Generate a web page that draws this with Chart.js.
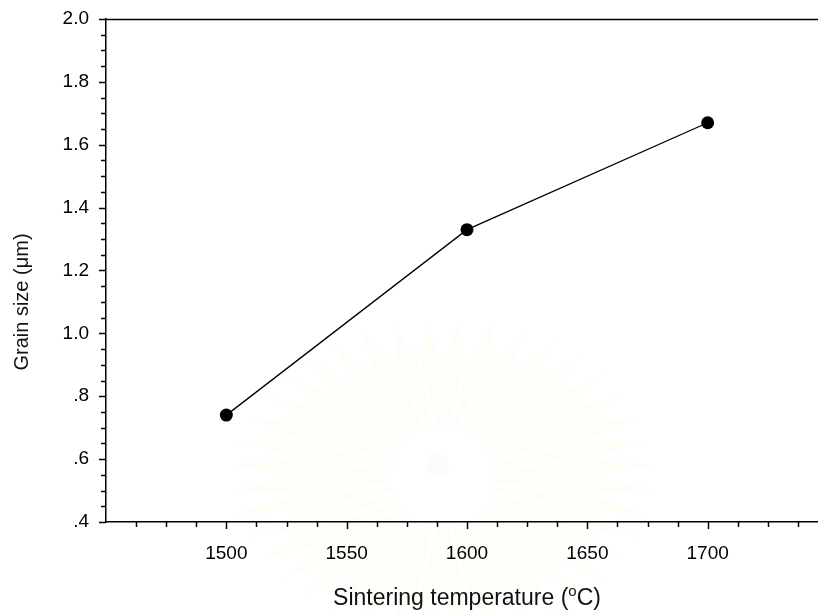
<!DOCTYPE html>
<html>
<head>
<meta charset="utf-8">
<script src="https://cdn.jsdelivr.net/npm/chart.js@4.4.1/dist/chart.umd.min.js"></script>
<style>
  html, body { margin: 0; padding: 0; background: #fff; overflow: hidden; }
  #wrap { width: 818px; height: 615px; overflow: hidden; }
  canvas { display: block; }
</style>
</head>
<body>
<div id="wrap"><canvas id="grain" width="850" height="615"></canvas></div>
<script>
// grain size vs sintering temperature
const temperatures = [1500, 1600, 1700];
const grainSizes = [0.74, 1.33, 1.67];

const xMajorTicks = [1500, 1550, 1600, 1650, 1700];
const yMajorTicks = [0.4, 0.6, 0.8, 1.0, 1.2, 1.4, 1.6, 1.8, 2.0];

const xTitleParts = ['Sintering temperature (', 'o', 'C)'];
const yTitle = 'Grain size (μm)';

const FONT = "'Liberation Sans', Arial, Helvetica, sans-serif";

// faint sunburst emblem in the background
const emblem = {
  id: 'emblem',
  beforeDraw(chart) {
    const ctx = chart.ctx;
    ctx.save();
    ctx.translate(443, 477);
    const n = 40;
    for (let i = 0; i < n; i++) {
      const a = (i + 0.5) / n * Math.PI * 2;
      const w = Math.PI / n * 0.85;
      ctx.beginPath();
      ctx.moveTo(Math.cos(a - w * 0.4) * 50, Math.sin(a - w * 0.4) * 50);
      ctx.lineTo(Math.cos(a - w) * 150, Math.sin(a - w) * 115);
      ctx.lineTo(Math.cos(a) * 215, Math.sin(a) * 160);
      ctx.lineTo(Math.cos(a + w) * 150, Math.sin(a + w) * 115);
      ctx.lineTo(Math.cos(a + w * 0.4) * 50, Math.sin(a + w * 0.4) * 50);
      ctx.closePath();
      ctx.fillStyle = 'rgba(236, 222, 160, 0.075)';
      ctx.fill();
    }
    ctx.beginPath();
    ctx.arc(0, 0, 50, 0, Math.PI * 2);
    ctx.fillStyle = '#fff';
    ctx.fill();
    ctx.beginPath();
    ctx.arc(-6, -12, 12, 0, Math.PI * 2);
    ctx.fillStyle = 'rgba(200, 200, 190, 0.05)';
    ctx.fill();
    ctx.restore();
  }
};

// top/right frame, minor + major tick marks, axis titles
const frame = {
  id: 'frame',
  afterDraw(chart) {
    const { ctx, chartArea: a, scales: { x, y } } = chart;
    const top = Math.round(a.top) + 0.5;
    ctx.save();
    ctx.strokeStyle = '#000';
    ctx.lineWidth = 1.5;
    ctx.beginPath();
    ctx.moveTo(a.left, top);
    ctx.lineTo(a.right, top);
    ctx.lineTo(a.right, a.bottom);
    for (let i = 1; i < 24; i++) {
      const px = Math.round(x.getPixelForValue(1450 + i * 12.5)) + 0.5;
      const len = i % 4 === 0 ? 7 : 5;
      ctx.moveTo(px, a.bottom);
      ctx.lineTo(px, a.bottom + len);
    }
    for (let i = 0; i <= 32; i++) {
      const py = Math.round(y.getPixelForValue(0.4 + i * 0.05)) + 0.5;
      const len = i % 4 === 0 ? 7 : 5;
      ctx.moveTo(a.left, py);
      ctx.lineTo(a.left - len, py);
    }
    ctx.stroke();

    ctx.fillStyle = '#111';
    ctx.textBaseline = 'alphabetic';

    // x title with superscript o
    const big = '23px ' + FONT, small = '15px ' + FONT;
    ctx.font = big;
    const w0 = ctx.measureText(xTitleParts[0]).width;
    const w2 = ctx.measureText(xTitleParts[2]).width;
    ctx.font = small;
    const w1 = ctx.measureText(xTitleParts[1]).width;
    let tx = (a.left + a.right) / 2 - (w0 + w1 + w2) / 2;
    const ty = 605;
    ctx.font = big;
    ctx.textAlign = 'left';
    ctx.fillText(xTitleParts[0], tx, ty);
    tx += w0;
    ctx.font = small;
    ctx.fillText(xTitleParts[1], tx, ty - 9);
    tx += w1;
    ctx.font = big;
    ctx.fillText(xTitleParts[2], tx, ty);

    // y title
    ctx.translate(22, 302);
    ctx.rotate(-Math.PI / 2);
    ctx.font = '20px ' + FONT;
    ctx.textAlign = 'center';
    ctx.textBaseline = 'middle';
    ctx.fillText(yTitle, 0, 0);
    ctx.restore();
  }
};

new Chart(document.getElementById('grain'), {
  type: 'line',
  data: {
    datasets: [{
      data: temperatures.map((t, i) => ({ x: t, y: grainSizes[i] })),
      borderColor: '#000',
      borderWidth: 1.3,
      pointRadius: 6.5,
      pointBackgroundColor: '#000',
      pointBorderWidth: 0,
      tension: 0
    }]
  },
  options: {
    responsive: false,
    animation: false,
    layout: { padding: { top: 19, right: 22, left: 0, bottom: 0 } },
    plugins: {
      legend: { display: false },
      tooltip: { enabled: false }
    },
    scales: {
      x: {
        type: 'linear',
        min: 1450,
        max: 1750,
        grid: { display: false },
        border: { display: true, color: '#000', width: 1.5 },
        afterBuildTicks: s => { s.ticks = xMajorTicks.map(v => ({ value: v })); },
        afterFit: s => { s.height = 93; s.paddingLeft = 0; s.paddingRight = 0; },
        ticks: {
          padding: 12,
          color: '#000',
          font: { family: FONT, size: 19 },
          maxRotation: 0,
          callback: v => String(v)
        }
      },
      y: {
        min: 0.4,
        max: 2.0,
        grid: { display: false },
        border: { display: true, color: '#000', width: 1.5 },
        afterBuildTicks: s => { s.ticks = yMajorTicks.map(v => ({ value: v })); },
        afterFit: s => { s.width = 106; s.paddingTop = 0; s.paddingBottom = 0; },
        ticks: {
          padding: 9,
          color: '#000',
          font: { family: FONT, size: 19 },
          callback: v => {
            const s = Number(v).toFixed(1);
            return v < 1 ? s.slice(1) : s;
          }
        }
      }
    }
  },
  plugins: [emblem, frame]
});
</script>
</body>
</html>
